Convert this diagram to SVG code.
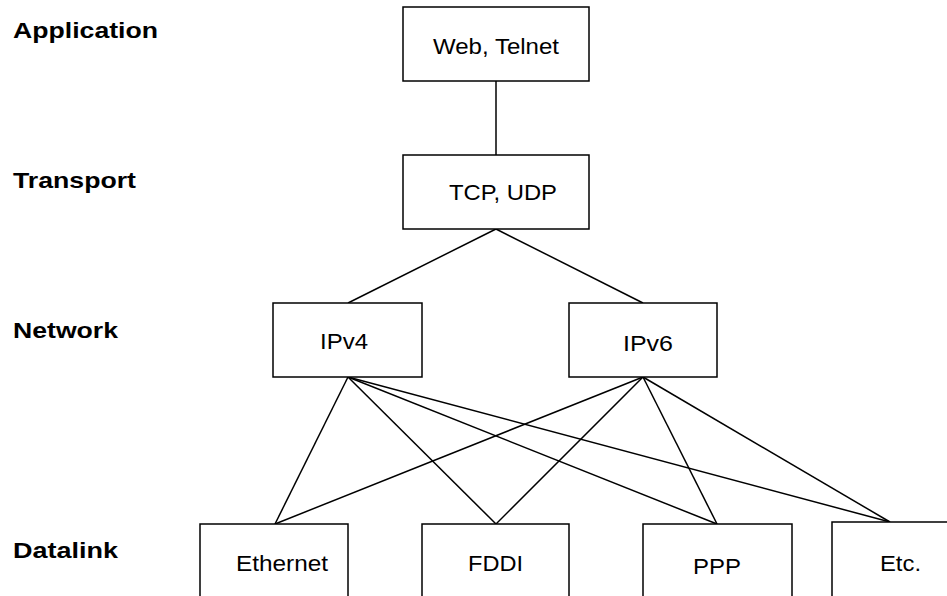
<svg xmlns="http://www.w3.org/2000/svg" width="947" height="596" viewBox="0 0 947 596">
<style>
.box{fill:#fff;stroke:#000;stroke-width:1.5}
.lbl{font-family:"Liberation Sans",Arial,sans-serif;font-size:22px;fill:#000}
.layer{font-family:"Liberation Sans",Arial,sans-serif;font-size:22px;font-weight:bold;fill:#000}
.conn line{stroke:#000;stroke-width:1.5}
</style>
<rect width="947" height="596" fill="#fff"/>
<g id="layers">
<text class="layer" x="13" y="38" textLength="145" lengthAdjust="spacingAndGlyphs">Application</text>
<text class="layer" x="13" y="188" textLength="123" lengthAdjust="spacingAndGlyphs">Transport</text>
<text class="layer" x="13" y="338" textLength="105" lengthAdjust="spacingAndGlyphs">Network</text>
<text class="layer" x="13" y="558" textLength="105" lengthAdjust="spacingAndGlyphs">Datalink</text>
</g>
<g id="connectors" class="conn">
<line x1="496" y1="81" x2="496" y2="155"/>
<line x1="496" y1="229" x2="348" y2="303"/>
<line x1="496" y1="229" x2="643" y2="303"/>
<line x1="348" y1="377" x2="275" y2="524"/>
<line x1="348" y1="377" x2="496" y2="524"/>
<line x1="348" y1="377" x2="717" y2="524"/>
<line x1="348" y1="377" x2="890" y2="522"/>
<line x1="643" y1="377" x2="275" y2="524"/>
<line x1="643" y1="377" x2="496" y2="524"/>
<line x1="643" y1="377" x2="717" y2="524"/>
<line x1="643" y1="377" x2="890" y2="522"/>
</g>
<g id="web"><rect class="box" x="403" y="7" width="186" height="74"/><text class="lbl" x="433" y="54" textLength="126" lengthAdjust="spacingAndGlyphs">Web, Telnet</text></g>
<g id="tcp"><rect class="box" x="403" y="155" width="186" height="74"/><text class="lbl" x="449" y="200" textLength="108" lengthAdjust="spacingAndGlyphs">TCP, UDP</text></g>
<g id="ipv4"><rect class="box" x="273" y="303" width="149" height="74"/><text class="lbl" x="320" y="349" textLength="48" lengthAdjust="spacingAndGlyphs">IPv4</text></g>
<g id="ipv6"><rect class="box" x="569" y="303" width="148" height="74"/><text class="lbl" x="623" y="351" textLength="50" lengthAdjust="spacingAndGlyphs">IPv6</text></g>
<g id="ethernet"><rect class="box" x="200" y="524" width="148" height="90"/><text class="lbl" x="236" y="571" textLength="92" lengthAdjust="spacingAndGlyphs">Ethernet</text></g>
<g id="fddi"><rect class="box" x="422" y="524" width="147" height="90"/><text class="lbl" x="468" y="571" textLength="55" lengthAdjust="spacingAndGlyphs">FDDI</text></g>
<g id="ppp"><rect class="box" x="643" y="524" width="149" height="90"/><text class="lbl" x="693" y="574" textLength="48" lengthAdjust="spacingAndGlyphs">PPP</text></g>
<g id="etc"><rect class="box" x="832" y="522" width="140" height="90"/><text class="lbl" x="880" y="571" textLength="41" lengthAdjust="spacingAndGlyphs">Etc.</text></g>
</svg>
